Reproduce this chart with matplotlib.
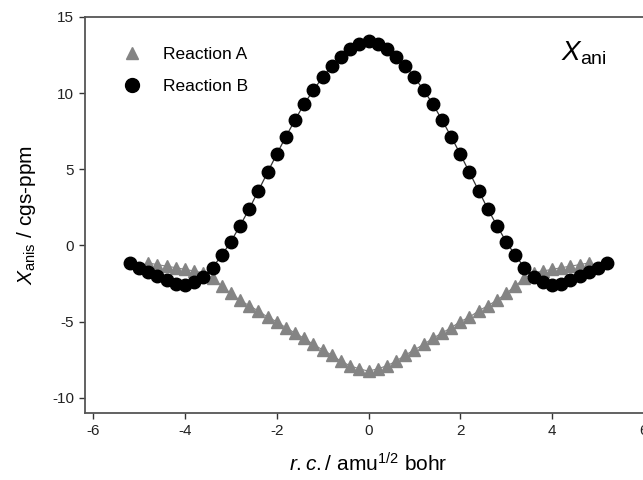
import numpy as np
import matplotlib
matplotlib.use("Agg")
import matplotlib.pyplot as plt
from matplotlib.lines import Line2D

plt.rcParams['font.family'] = ['Liberation Sans', 'DejaVu Sans']
plt.rcParams['mathtext.fontset'] = 'custom'
plt.rcParams['mathtext.rm'] = 'Liberation Sans'
plt.rcParams['mathtext.it'] = 'Liberation Sans:italic'
plt.rcParams['axes.unicode_minus'] = False

# half-curves for r.c. >= 0, mirrored to the negative side
rc_b_half = [0.0, 0.2, 0.4, 0.6, 0.8, 1.0, 1.2, 1.4, 1.6, 1.8, 2.0, 2.2, 2.4, 2.6,
             2.8, 3.0, 3.2, 3.4, 3.6, 3.8, 4.0, 4.2, 4.4, 4.6, 4.8, 5.0, 5.2]
xani_b_half = [13.45, 13.25, 12.9, 12.4, 11.8, 11.05, 10.2, 9.3, 8.25, 7.15, 6.0, 4.8,
               3.6, 2.4, 1.3, 0.25, -0.65, -1.45, -2.05, -2.4, -2.6, -2.5, -2.25,
               -2.0, -1.75, -1.5, -1.15]

rc_a_half = [0.0, 0.2, 0.4, 0.6, 0.8, 1.0, 1.2, 1.4, 1.6, 1.8, 2.0, 2.2, 2.4, 2.6,
             2.8, 3.0, 3.2, 3.4, 3.6, 3.8, 4.0, 4.2, 4.4, 4.6, 4.8]
xani_a_half = [-8.25, -8.1, -7.9, -7.6, -7.2, -6.85, -6.5, -6.1, -5.75, -5.4, -5.0,
               -4.7, -4.3, -3.95, -3.6, -3.15, -2.65, -2.15, -1.8, -1.68, -1.57,
               -1.46, -1.36, -1.26, -1.15]


def mirror(xs, ys):
    xs = np.array(xs)
    ys = np.array(ys)
    return np.concatenate([-xs[:0:-1], xs]), np.concatenate([ys[:0:-1], ys])


rc_a, xani_a = mirror(rc_a_half, xani_a_half)
rc_b, xani_b = mirror(rc_b_half, xani_b_half)

fig = plt.figure(figsize=(6.43, 4.8), dpi=100)
# right edge runs past the picture, as in the original
ax = fig.add_axes([85 / 643, 67 / 480, 567 / 643, 396 / 480])

grey = '#848484'
ax.plot(rc_a, xani_a, '-', color=grey, lw=0.8, marker='^', ms=8.5,
        mfc=grey, mec=grey, zorder=2)
ax.plot(rc_b, xani_b, '-', color='#333333', lw=0.9, marker='o', ms=9,
        mfc='black', mec='black', zorder=3)

ax.set_xlim(-6.18, 6.18)
ax.set_ylim(-11, 15)
ax.set_xticks([-6, -4, -2, 0, 2, 4, 6])
ax.set_yticks([-10, -5, 0, 5, 10, 15])
ax.tick_params(direction='out', length=4, width=1, labelsize=11, pad=4,
               colors='#333333', labelcolor='#222222')
for sp in ax.spines.values():
    sp.set_linewidth(1.3)
    sp.set_color('#555555')

ax.set_xlabel(r'$\mathit{r.c.}$/ amu$^{1/2}$ bohr', fontsize=15, labelpad=10)
ax.set_ylabel(r'$\mathit{X}_{\mathrm{anis}}$ / cgs-ppm', fontsize=15, labelpad=10)

ax.text(4.2, 12.6, r'$\mathit{X}_{\mathrm{ani}}$', fontsize=20, ha='left', va='center')

handles = [Line2D([], [], ls='none', marker='^', ms=9, color=grey),
           Line2D([], [], ls='none', marker='o', ms=10, color='black')]
ax.legend(handles, ['Reaction A', 'Reaction B'], loc='upper left',
          bbox_to_anchor=(0.04, 0.965), frameon=False, fontsize=12.5,
          handlelength=1.0, handletextpad=1.3, labelspacing=1.0, numpoints=1)

fig.savefig('out.png', dpi=100)
